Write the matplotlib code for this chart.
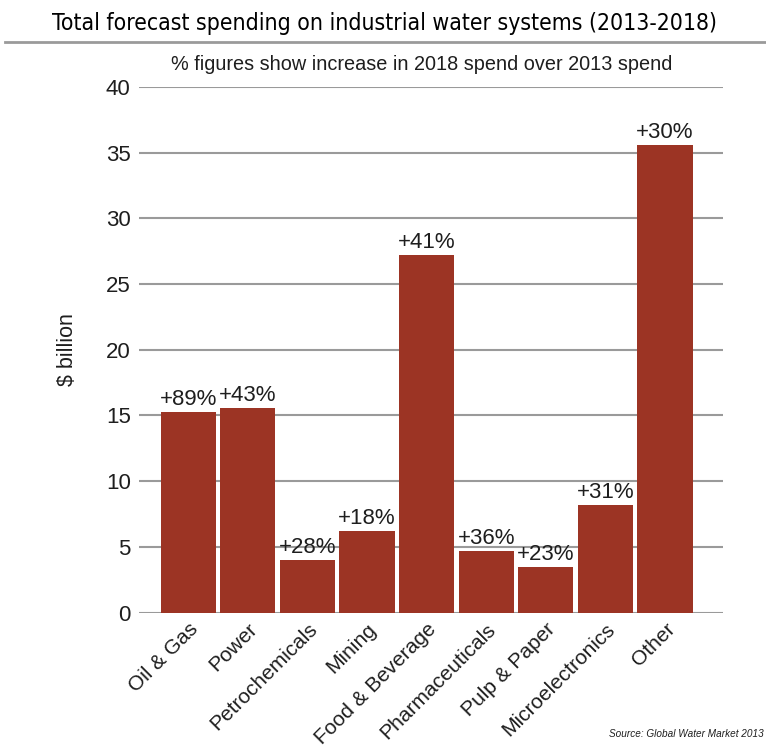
import matplotlib.pyplot as plt
import numpy as np

# Data
categories = ['Oil & Gas', 'Power', 'Petrochemicals', 'Mining', 'Food & Beverage',
              'Pharmaceuticals', 'Pulp & Paper', 'Microelectronics', 'Other']
spend_billion = [15.3, 15.6, 4.0, 6.2, 27.2, 4.7, 3.5, 8.2, 35.6]
increase_labels = ['+89%', '+43%', '+28%', '+18%', '+41%', '+36%', '+23%', '+31%', '+30%']
y_ticks = [0, 5, 10, 15, 20, 25, 30, 35, 40]

bar_color = '#9c3424'
text_color = '#1e1e1e'
plt.rcParams['font.family'] = ['Liberation Sans', 'DejaVu Sans']

fig = plt.figure(figsize=(7.66, 7.47), dpi=100)
ax = fig.add_axes([0.1815, 0.1798, 0.7624, 0.704])

x = np.arange(len(categories))
bars = ax.bar(x, spend_billion, width=0.924, color=bar_color, zorder=2)

for bar, lab in zip(bars, increase_labels):
    ax.text(bar.get_x() + bar.get_width() / 2, bar.get_height() + 0.15, lab,
            ha='center', va='bottom', fontsize=16, color=text_color, zorder=3)

ax.set_xlim(-0.825, 8.973)
ax.set_ylim(0, 40)
ax.set_yticks(y_ticks)
ax.set_yticklabels([str(t) for t in y_ticks], fontsize=16, color=text_color)
ax.yaxis.grid(True, color='#9a9a9a', linewidth=1.5, zorder=0)
ax.set_axisbelow(True)
ax.tick_params(axis='y', length=0, pad=6)
ax.tick_params(axis='x', length=0, pad=5)
ax.set_xticks(x)
ax.set_xticklabels(categories, rotation=45, ha='right', rotation_mode='anchor',
                   fontsize=15, color=text_color)
for s in ax.spines.values():
    s.set_visible(False)

ax.set_ylabel('$ billion', fontsize=15.5, color=text_color, labelpad=20)

# Title, rule and subtitle
fig.text(0.502, 0.968, 'Total forecast spending on industrial water systems (2013-2018)',
         ha='center', va='center', fontsize=16.5, family='DejaVu Sans',
         fontstretch='condensed', color='black')
fig.add_artist(plt.Line2D([0.007, 1.0], [0.944, 0.944], color='#9a9a9a', linewidth=2))
fig.text(0.551, 0.913, '% figures show increase in 2018 spend over 2013 spend',
         ha='center', va='center', fontsize=14.3, color=text_color)

fig.text(0.997, 0.018, 'Source: Global Water Market 2013', ha='right', va='center',
         fontsize=7.2, style='italic', color=text_color)

fig.savefig('out.png', dpi=100, facecolor='white')
